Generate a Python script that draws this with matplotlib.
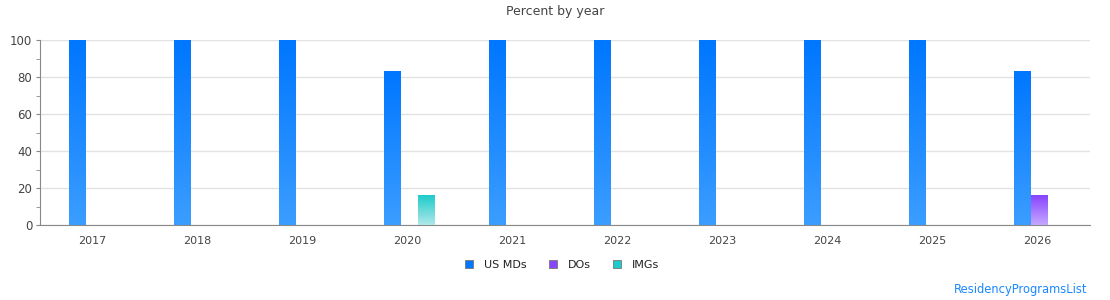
import matplotlib
matplotlib.use("Agg")
import matplotlib.pyplot as plt
import numpy as np
from matplotlib.colors import LinearSegmentedColormap
from matplotlib.patches import Patch

# data
years = ['2017', '2018', '2019', '2020', '2021', '2022', '2023', '2024', '2025', '2026']
us_mds = [100, 100, 100, 83, 100, 100, 100, 100, 100, 83]
dos = [0, 0, 0, 0, 0, 0, 0, 0, 0, 16]
imgs = [0, 0, 0, 16, 0, 0, 0, 0, 0, 0]

series = [
    ('US MDs', us_mds, '#0077ff', '#3b9dff'),
    ('DOs', dos, '#8844ff', '#c4a8ff'),
    ('IMGs', imgs, '#1ecbcb', '#b0e8e8'),
]

fig = plt.figure(figsize=(11.1, 3.0), dpi=100)
ax = fig.add_axes([40 / 1110, 75 / 300, 1050 / 1110, 185 / 300])

x = np.arange(len(years))
width = 0.157
grad = np.linspace(1, 0, 100).reshape(-1, 1)

for i, (name, vals, top, bottom) in enumerate(series):
    cmap = LinearSegmentedColormap.from_list(name, [bottom, top])
    for xi, v in zip(x, vals):
        if v <= 0:
            continue
        x0 = xi + 0.014 + (i - 1) * 0.162 - width / 2
        ax.imshow(grad, cmap=cmap, extent=(x0, x0 + width, 0, v),
                  aspect='auto', zorder=3, interpolation='bilinear', vmin=0, vmax=1)

ax.set_xlim(-0.5, len(years) - 0.5)
ax.set_ylim(0, 100)
ax.set_xticks(x)
ax.set_xticklabels(years)
ax.set_yticks([0, 20, 40, 60, 80, 100])
ax.set_yticks(np.arange(10, 100, 20), minor=True)
ax.grid(axis='y', color='#e2e2e2', linewidth=1, zorder=0)
ax.set_axisbelow(True)

for s in ['top', 'right']:
    ax.spines[s].set_visible(False)
for s in ['left', 'bottom']:
    ax.spines[s].set_color('#888888')
ax.tick_params(axis='x', length=0, pad=8, labelsize=8, colors='#444444')
ax.tick_params(axis='y', which='major', length=3, pad=2.5, color='#888888', labelsize=8.5, labelcolor='#444444')
ax.tick_params(axis='y', which='minor', length=3, color='#888888')

fig.text(0.5, 1 - 12 / 300, 'Percent by year', ha='center', va='center', fontsize=9, color='#444444')

handles = [Patch(facecolor=top, edgecolor='#777777', linewidth=0.6) for _, _, top, _ in series]
fig.legend(handles, [s[0] for s in series], loc='center', bbox_to_anchor=(562 / 1110, 1 - 265 / 300),
           ncol=3, frameon=False, fontsize=8, handlelength=0.7, handleheight=0.7,
           handletextpad=1.0, columnspacing=2.0, labelcolor='#222222')

fig.text(1087 / 1110, 1 - 290 / 300, 'ResidencyProgramsList', ha='right', va='center',
         fontsize=8.3, color='#1a88ff')

fig.savefig('out.png', dpi=100)
